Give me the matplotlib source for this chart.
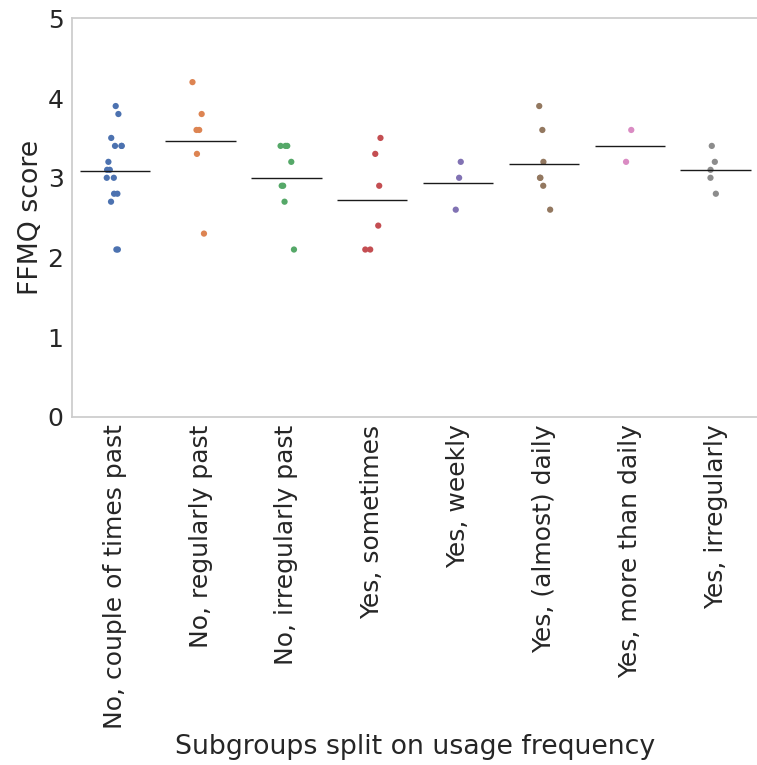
import matplotlib
matplotlib.use("Agg")
import matplotlib.pyplot as plt
import numpy as np
import pandas as pd
import seaborn as sns

# FFMQ scores per usage-frequency subgroup
groups = ['No, couple of times past', 'No, regularly past', 'No, irregularly past',
          'Yes, sometimes', 'Yes, weekly', 'Yes, (almost) daily',
          'Yes, more than daily', 'Yes, irregularly']
g1 = [3.9, 3.8, 3.5, 3.4, 3.4, 3.4, 3.2, 3.1, 3.1, 3.0, 3.0, 2.8, 2.8, 2.7, 2.1, 2.1]
g2 = [4.2, 3.8, 3.6, 3.6, 3.3, 2.3]
g3 = [3.4, 3.4, 3.4, 3.2, 2.9, 2.9, 2.7, 2.1]
g4 = [3.5, 3.3, 2.9, 2.4, 2.1, 2.1]
g5 = [3.2, 3.0, 2.6]
g6 = [3.9, 3.6, 3.2, 3.0, 3.0, 2.9, 2.6]
g7 = [3.6, 3.2]
g8 = [3.4, 3.2, 3.1, 3.0, 2.8]
scores = [g1, g2, g3, g4, g5, g6, g7, g8]

df = pd.DataFrame({
    'group': [g for g, s in zip(groups, scores) for _ in s],
    'score': [v for s in scores for v in s],
})

sns.set_theme(style="whitegrid", font_scale=1.5)
plt.rcParams['font.family'] = ['DejaVu Sans']

fig, ax = plt.subplots(figsize=(7.57, 7.65), dpi=100)
fig.subplots_adjust(left=0.095, right=1.002, bottom=0.455, top=0.976)

np.random.seed(3)
sns.stripplot(data=df, x='group', y='score', hue='group', order=groups,
              palette='deep', size=4.5, jitter=True, legend=False, ax=ax)

# mean of each subgroup as a short black line
means = df.groupby('group', sort=False)['score'].mean().reindex(groups)
x = np.arange(len(groups))
ax.hlines(means.values, x - 0.41, x + 0.41, color='k', lw=1, zorder=3)

ax.grid(False)
ax.set_xlim(-0.5, len(groups) - 0.5)
ax.set_ylim(0, 5)
ax.set_yticks(range(6))
ax.set_xlabel('Subgroups split on usage frequency', fontsize=19.3, labelpad=3)
ax.set_ylabel('FFMQ score', fontsize=19.3, labelpad=2.5)
ax.tick_params(axis='x', rotation=90, labelsize=18, length=0, pad=5.5)
ax.tick_params(axis='y', labelsize=18, length=0, pad=6)
for s in ax.spines.values():
    s.set_color('#cccccc')

fig.savefig('out.png')
